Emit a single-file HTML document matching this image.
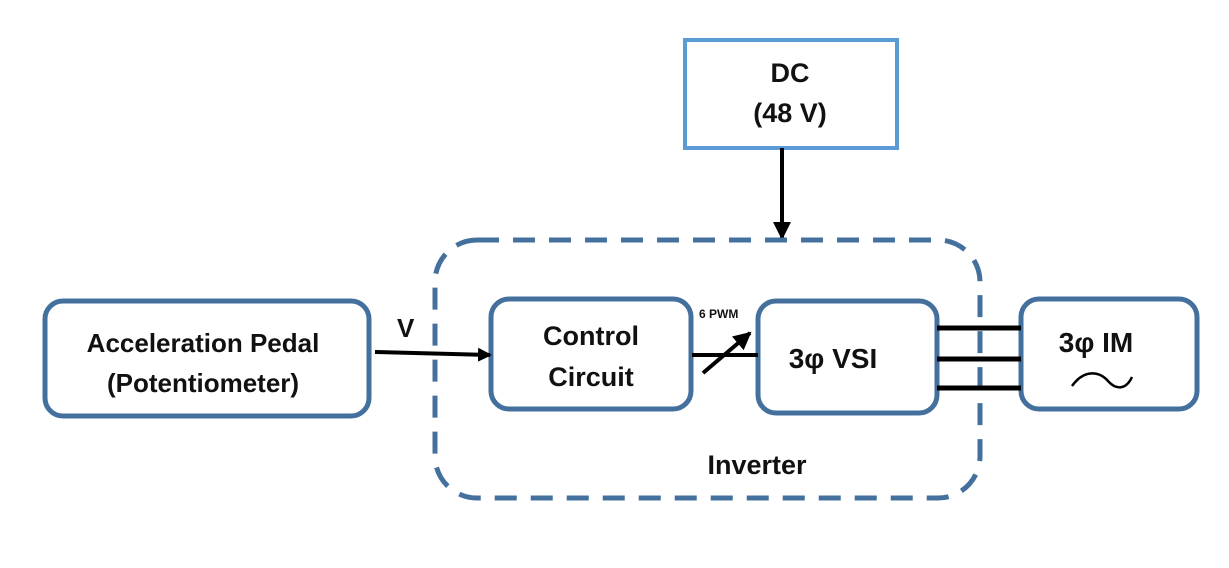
<!DOCTYPE html>
<html><head><style>body{margin:0;background:#fff}svg{display:block}text{font-family:"Liberation Sans",sans-serif;font-weight:bold;fill:#111}</style></head><body>
<svg width="1229" height="568" viewBox="0 0 1229 568">
<defs><marker id="a" markerWidth="14" markerHeight="14" refX="12" refY="7" orient="auto" markerUnits="userSpaceOnUse"><path d="M0,0 L14,7 L0,14z" fill="#000"/></marker>
<marker id="b" markerWidth="18" markerHeight="18" refX="16" refY="9" orient="auto" markerUnits="userSpaceOnUse"><path d="M0,0 L18,9 L0,18z" fill="#000"/></marker></defs>
<rect x="685" y="40" width="212" height="108" fill="#fff" stroke="#5b9bd5" stroke-width="4"/>
<text x="790" y="82" font-size="27" text-anchor="middle">DC</text>
<text x="790" y="122" font-size="27" text-anchor="middle">(48 V)</text>
<line x1="782" y1="148" x2="782" y2="238" stroke="#000" stroke-width="4" marker-end="url(#b)"/>
<rect x="435" y="240" width="545" height="258" rx="42" fill="none" stroke="#44709d" stroke-width="5" stroke-dasharray="22 14"/>
<rect x="45" y="301" width="324" height="115" rx="18" fill="#fff" stroke="#44709d" stroke-width="5"/>
<text x="203" y="352" font-size="26" text-anchor="middle">Acceleration Pedal</text>
<text x="203" y="392" font-size="26" text-anchor="middle">(Potentiometer)</text>
<rect x="491" y="299" width="200" height="110" rx="18" fill="#fff" stroke="#44709d" stroke-width="5"/>
<text x="591" y="345" font-size="27" text-anchor="middle">Control</text>
<text x="591" y="386" font-size="27" text-anchor="middle">Circuit</text>
<rect x="758" y="301" width="179" height="112" rx="18" fill="#fff" stroke="#44709d" stroke-width="5"/>
<text x="833" y="368" font-size="28" text-anchor="middle">3φ VSI</text>
<rect x="1021" y="299" width="176" height="110" rx="18" fill="#fff" stroke="#44709d" stroke-width="5"/>
<text x="1096" y="352" font-size="28" text-anchor="middle">3φ IM</text>
<path d="M1072,386 C1085,368 1100,372 1108,381 C1116,390 1126,390 1132,377" fill="none" stroke="#000" stroke-width="2.5"/>
<text x="397" y="337" font-size="26">V</text>
<line x1="375" y1="352" x2="490" y2="355" stroke="#000" stroke-width="4" marker-end="url(#a)"/>
<line x1="692" y1="355" x2="758" y2="355" stroke="#000" stroke-width="4"/>
<line x1="703" y1="373" x2="750" y2="333" stroke="#000" stroke-width="4" marker-end="url(#b)"/>
<text x="699" y="318" font-size="12">6 PWM</text>
<g stroke="#000" stroke-width="5"><line x1="937" y1="328" x2="1021" y2="328"/><line x1="937" y1="359" x2="1021" y2="359"/><line x1="937" y1="388" x2="1021" y2="388"/></g>
<text x="757" y="474" font-size="27" text-anchor="middle">Inverter</text>
</svg></body></html>
